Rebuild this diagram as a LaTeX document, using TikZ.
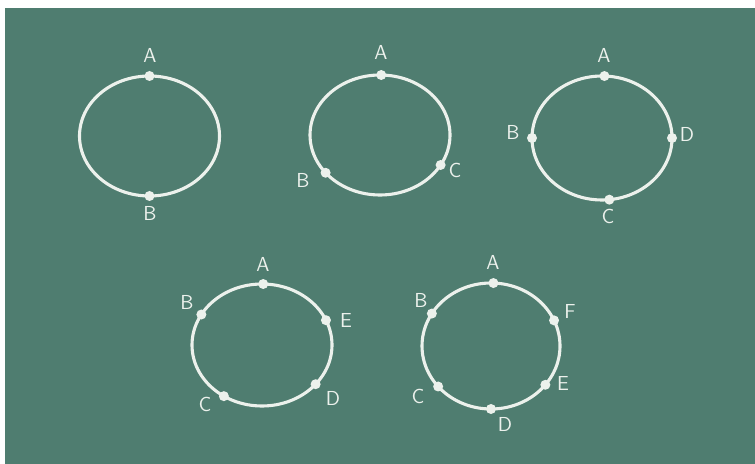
\documentclass[tikz,border=0pt]{standalone}
\usetikzlibrary{positioning}
\definecolor{cboard}{HTML}{4F7D70}
\definecolor{cchalk}{HTML}{ECF1EC}
\tikzset{
  every picture/.style={font=\sffamily, line width=1.2pt},
  ring/.style={draw=cchalk, line width=2.2pt},
  pt/.style={circle, fill=cchalk, inner sep=0pt, minimum size=0.25cm},
  lab/.style={text=cchalk, font=\sffamily\Large, inner sep=1pt},
}
\begin{document}
\begin{tikzpicture}[x=0.025cm, y=-0.025cm]
  % paper and board
  \fill[white] (0,0) rectangle (755,464);
  \fill[cboard] (5,8) rectangle (755,464);
  \useasboundingbox (0,0) rectangle (755,464);
  % two points
  \draw[ring] (149.5,136) ellipse [x radius=70, y radius=60];
  \path (149.5,136) ++(270:70 and 60) node[pt] (a1) {};
  \path (149.5,136) ++(90:70 and 60) node[pt] (b1) {};
  \node[lab] (la1) at (150,55) {A};
  \node[lab] (lb1) at (150,213) {B};
  % three points
  \draw[ring] (380,135) ellipse [x radius=70, y radius=60];
  \path (380,135) ++(271:70 and 60) node[pt] (a2) {};
  \path (380,135) ++(141:70 and 60) node[pt] (b2) {};
  \path (380,135) ++(30:70 and 60) node[pt] (c2) {};
  \node[lab] (la2) at (381,52) {A};
  \node[lab] (lb2) at (303,180) {B};
  \node[lab] (lc2) at (455,170) {C};
  % four points
  \draw[ring] (602,138) ellipse [x radius=70, y radius=62];
  \path (602,138) ++(272:70 and 62) node[pt] (a3) {};
  \path (602,138) ++(180:70 and 62) node[pt] (b3) {};
  \path (602,138) ++(0:70 and 62) node[pt] (d3) {};
  \path (602,138) ++(84:70 and 62) node[pt] (c3) {};
  \node[lab] (la3) at (604,55) {A};
  \node[lab] (lb3) at (513,132) {B};
  \node[lab] (ld3) at (687,134) {D};
  \node[lab] (lc3) at (608,216) {C};
  % five points
  \draw[ring] (262,345) ellipse [x radius=70, y radius=61];
  \path (262,345) ++(271:70 and 61) node[pt] (a4) {};
  \path (262,345) ++(210:70 and 61) node[pt] (b4) {};
  \path (262,345) ++(336:70 and 61) node[pt] (e4) {};
  \path (262,345) ++(40:70 and 61) node[pt] (d4) {};
  \path (262,345) ++(123:70 and 61) node[pt] (c4) {};
  \node[lab] (la4) at (263,264) {A};
  \node[lab] (lb4) at (187,302) {B};
  \node[lab] (le4) at (346,320) {E};
  \node[lab] (ld4) at (333,398) {D};
  \node[lab] (lc4) at (205,404) {C};
  % six points
  \draw[ring] (491,346) ellipse [x radius=69, y radius=63];
  \path (491,346) ++(272:69 and 63) node[pt] (a5) {};
  \path (491,346) ++(211:69 and 63) node[pt] (b5) {};
  \path (491,346) ++(336:69 and 63) node[pt] (f5) {};
  \path (491,346) ++(38:69 and 63) node[pt] (e5) {};
  \path (491,346) ++(90:69 and 63) node[pt] (d5) {};
  \path (491,346) ++(140:69 and 63) node[pt] (c5) {};
  \node[lab] (la5) at (493,262) {A};
  \node[lab] (lb5) at (421,300) {B};
  \node[lab] (lf5) at (570,311) {F};
  \node[lab] (le5) at (563,383) {E};
  \node[lab] (ld5) at (505,424) {D};
  \node[lab] (lc5) at (418,396) {C};
\end{tikzpicture}
\end{document}
